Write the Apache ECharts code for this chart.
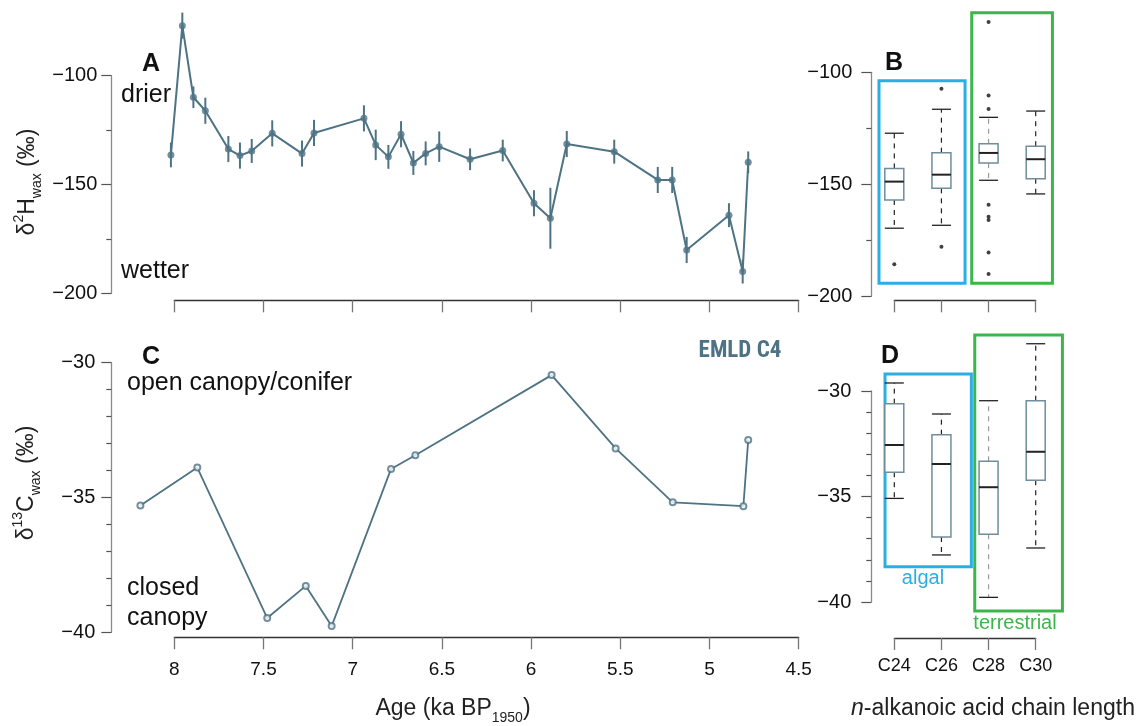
<!DOCTYPE html>
<html><head><meta charset="utf-8">
<script src="https://cdn.jsdelivr.net/npm/echarts@6/dist/echarts.min.js"></script>
<style>html,body{margin:0;padding:0;background:#fff}#c{width:1138px;height:726px}</style>
</head><body><div id="c"></div>
<script>
// ---------- data ----------
const ageH = [8.019,7.955,7.893,7.826,7.697,7.632,7.566,7.451,7.284,7.217,6.937,6.871,6.800,6.729,6.660,6.591,6.515,6.342,6.159,5.984,5.892,5.800,5.534,5.290,5.209,5.128,4.891,4.814,4.783];
const d2H = [-136.4,-77.0,-109.9,-116.1,-133.7,-136.7,-134.6,-126.5,-135.8,-126.3,-119.6,-131.8,-137.3,-126.9,-140.1,-135.7,-132.6,-138.4,-134.4,-158.6,-165.5,-131.4,-134.9,-147.9,-147.9,-180.1,-164.1,-190.0,-139.8];
const d2HErr = [5.7,6,5,6,6,6,5.5,6,6,6,6,7,5.5,6,5.5,5.5,7,5,5,6,14,6,5.5,6,6,6,5.5,5.5,5];
const ageC = [8.19,7.871,7.479,7.263,7.118,6.785,6.649,5.885,5.526,5.206,4.81,4.783];
const d13C = [-35.30,-33.89,-39.47,-38.28,-39.77,-33.94,-33.43,-30.46,-33.18,-35.18,-35.32,-32.87];
const ageTicks = [8,7.5,7,6.5,6,5.5,5,4.5];
const chains = ['C24','C26','C28','C30'];
// box stats: [low whisker, Q1, median, Q3, high whisker]
const boxH = [[-169.6,-157.0,-148.8,-142.9,-127.2],[-168.3,-151.8,-145.7,-135.9,-116.5],[-148.2,-140.5,-136.0,-131.9,-120.1],[-154.3,-147.5,-138.8,-133.0,-117.3]];
const outH = [[0,-185.7],[1,-107.3],[1,-177.9],[2,-77.5],[2,-110.4],[2,-116.4],[2,-159.1],[2,-164.5],[2,-165.9],[2,-180.4],[2,-190.0]];
const boxC = [[-35.09,-33.85,-32.56,-30.60,-29.62],[-37.77,-36.92,-33.46,-32.07,-31.09],[-39.78,-36.79,-34.56,-33.33,-30.46],[-37.44,-34.23,-32.88,-30.46,-27.76]];

// ---------- annotation frames (axis coords) ----------
const framesB = [{x0:-0.325,x1:1.501,y0:-103.75,y1:-194.2,c:'#2aaee4'},{x0:1.643,x1:3.355,y0:-73.4,y1:-194.2,c:'#3cb64b'}];
const framesD = [{x0:-0.197,x1:1.635,y0:-29.19,y1:-38.33,c:'#2aaee4'},{x0:1.707,x1:3.567,y0:-27.35,y1:-40.43,c:'#3cb64b'}];

const COL = '#4e7384';
const FONT = '"Liberation Sans", Arial, Helvetica, sans-serif';
const minus = v => (v < 0 ? '\u2212' + Math.abs(v) : String(v));

function yAx(gi, min, max, interval, split, offset, margin) {
  return { type:'value', gridIndex:gi, min, max, interval, offset, position:'left',
    axisLine:{show:true,onZero:false,lineStyle:{color:'#8a8a8a',width:1.3}},
    axisTick:{show:true,length:10,lineStyle:{color:'#555',width:1.2}},
    minorTick:{show:true,splitNumber:split,length:5,lineStyle:{color:'#555',width:1.2}},
    splitLine:{show:false}, minorSplitLine:{show:false},
    axisLabel:{show:true,margin,formatter:minus,color:'#111',fontSize:20,fontFamily:FONT}
  };
}
function xAx(gi, min, max, interval, offset, label, inverse) {
  return { type:'value', gridIndex:gi, min, max, interval, offset, inverse, position:'bottom',
    axisLine:{show:true,onZero:false,lineStyle:{color:'#333',width:1.3}},
    axisTick:{show:true,length:12,lineStyle:{color:'#777',width:1.3}},
    splitLine:{show:false},
    axisLabel: label ? Object.assign({color:'#111',fontSize:19,fontFamily:FONT}, label) : {show:false}
  };
}

function errRender(params, api) {
  const x = api.value(0), y = api.value(1), e = api.value(2);
  const p1 = api.coord([x, y + e]), p2 = api.coord([x, y - e]);
  return {type:'line', shape:{x1:p1[0],y1:p1[1],x2:p2[0],y2:p2[1]}, style:{stroke:COL,lineWidth:2}};
}
function segRender(width) {
  return function(params, api) {
    const a = api.coord([api.value(0), api.value(1)]), b = api.coord([api.value(2), api.value(3)]);
    return {type:'line', shape:{x1:a[0],y1:a[1],x2:b[0],y2:b[1]}, style:{stroke:COL,lineWidth:width,lineCap:'round'}};
  };
}
function segs(xs, ys) {
  const out = [];
  for (let i = 0; i < xs.length - 1; i++) out.push([xs[i], ys[i], xs[i+1], ys[i+1]]);
  return out;
}
function boxRender(params, api) {
  const i = api.value(0);
  const lo = api.value(1), q1 = api.value(2), md = api.value(3), q3 = api.value(4), hi = api.value(5);
  const hw = 9.5;
  const pLo = api.coord([i, lo]), pQ1 = api.coord([i, q1]), pMd = api.coord([i, md]), pQ3 = api.coord([i, q3]), pHi = api.coord([i, hi]);
  const x = pMd[0];
  const wc = i === 2 ? '#9a9a9a' : '#222';
  return {type:'group', children:[
    {type:'line', shape:{x1:x,y1:pQ3[1],x2:x,y2:pHi[1]}, style:{stroke:wc,lineWidth:1.2,lineDash:[5,5]}},
    {type:'line', shape:{x1:x,y1:pQ1[1],x2:x,y2:pLo[1]}, style:{stroke:wc,lineWidth:1.2,lineDash:[5,5]}},
    {type:'line', shape:{x1:x-hw,y1:pHi[1],x2:x+hw,y2:pHi[1]}, style:{stroke:'#222',lineWidth:1.3}},
    {type:'line', shape:{x1:x-hw,y1:pLo[1],x2:x+hw,y2:pLo[1]}, style:{stroke:'#222',lineWidth:1.3}},
    {type:'rect', shape:{x:x-hw,y:pQ3[1],width:2*hw,height:pQ1[1]-pQ3[1]}, style:{fill:'#fff',stroke:'#6f8d9c',lineWidth:1.5}},
    {type:'line', shape:{x1:x-hw,y1:pMd[1],x2:x+hw,y2:pMd[1]}, style:{stroke:'#222',lineWidth:2}}
  ]};
}
function frameRender(frames) {
  return function(params, api) {
    const f = frames[params.dataIndex];
    const a = api.coord([f.x0, f.y0]), b = api.coord([f.x1, f.y1]);
    return {type:'rect', shape:{x:a[0],y:a[1],width:b[0]-a[0],height:b[1]-a[1]}, style:{fill:'none',stroke:f.c,lineWidth:3}};
  };
}

const option = {
  backgroundColor:'#fff',
  animation:false,
  grid:[
    {left:174.3, top:75.7, width:624.4, height:217.6},
    {left:894.3, top:72.3, width:141.4, height:224},
    {left:174.3, top:362.7, width:624.4, height:269.6},
    {left:894.3, top:391, width:141.4, height:211}
  ],
  xAxis:[
    xAx(0, 4.5, 8, 0.5, 7, null, true),
    xAx(1, 0, 3, 1, 4, null, false),
    xAx(2, 4.5, 8, 0.5, 5, {margin:23}, true),
    xAx(3, 0, 3, 1, 36, {margin:19, fontSize:18, formatter: v => chains[v]}, false)
  ],
  yAxis:[
    yAx(0, -200, -100, 50, 2, 63, 14),
    yAx(1, -200, -100, 50, 2, 23, 19),
    yAx(2, -40, -30, 5, 5, 63, 16),
    yAx(3, -40, -30, 5, 5, 23, 20)
  ],
  series:[
    {type:'custom', xAxisIndex:0, yAxisIndex:0, renderItem:errRender, data: ageH.map((a,i)=>[a,d2H[i],d2HErr[i]]), z:2},
    {type:'custom', xAxisIndex:0, yAxisIndex:0, renderItem:segRender(2), data: segs(ageH, d2H), z:2},
    {type:'scatter', xAxisIndex:0, yAxisIndex:0, clip:false, data: ageH.map((a,i)=>[a,d2H[i]]),
      symbol:'circle', symbolSize:7, itemStyle:{color:COL}, z:3},
    {type:'custom', xAxisIndex:2, yAxisIndex:2, renderItem:segRender(1.8), data: segs(ageC, d13C), z:2},
    {type:'scatter', xAxisIndex:2, yAxisIndex:2, clip:false, data: ageC.map((a,i)=>[a,d13C[i]]),
      symbol:'emptyCircle', symbolSize:6, itemStyle:{color:COL,borderColor:COL,borderWidth:1.6}, z:3},
    {type:'custom', xAxisIndex:1, yAxisIndex:1, renderItem:frameRender(framesB), data: framesB.map((f,i)=>[i]), z:1},
    {type:'custom', xAxisIndex:3, yAxisIndex:3, renderItem:frameRender(framesD), data: framesD.map((f,i)=>[i]), z:1},
    {type:'custom', xAxisIndex:1, yAxisIndex:1, renderItem:boxRender, data: boxH.map((b,i)=>[i].concat(b)), z:2},
    {type:'custom', xAxisIndex:3, yAxisIndex:3, renderItem:boxRender, data: boxC.map((b,i)=>[i].concat(b)), z:2},
    {type:'scatter', xAxisIndex:1, yAxisIndex:1, clip:false, data: outH, symbol:'circle', symbolSize:4, itemStyle:{color:'#111'}, z:3}
  ],
  graphic:[]
};

function txt(x, y, text, opt) {
  const o = opt || {};
  return {type:'text', x, y, rotation:o.rot||0, z:10, style:Object.assign({
    text, fill:o.fill||'#111', fontSize:o.size||25, fontFamily:o.family||FONT, fontWeight:o.weight||'normal', fontStyle:o.style||'normal',
    align:o.align||'left', textAlign:o.align||'left', verticalAlign:'middle', textVerticalAlign:'middle'
  }, o.rich ? {rich:o.rich} : {})};
}
const richT = {
  m:{fontSize:23, fontFamily:FONT, fill:'#222', lineHeight:32, verticalAlign:'middle'},
  sup:{fontSize:14, fontFamily:FONT, fill:'#222', lineHeight:32, verticalAlign:'top'},
  sub:{fontSize:14, fontFamily:FONT, fill:'#222', lineHeight:32, verticalAlign:'bottom'},
  i:{fontSize:23, fontFamily:FONT, fill:'#222', fontStyle:'italic', lineHeight:32, verticalAlign:'middle'}
};
option.graphic = [
  txt(151, 64, 'A', {weight:'bold', size:25, align:'center'}),
  txt(894, 63, 'B', {weight:'bold', size:25, align:'center'}),
  txt(151, 357, 'C', {weight:'bold', size:25, align:'center'}),
  txt(890, 356, 'D', {weight:'bold', size:25, align:'center'}),
  txt(121, 95, 'drier'),
  txt(121, 271, 'wetter'),
  txt(127, 383, 'open canopy/conifer'),
  txt(127, 588, 'closed'),
  txt(127, 618, 'canopy'),
  txt(740, 351, 'EMLD C4', {weight:'bold', size:23, family:'"Liberation Sans Narrow", "Roboto Condensed", Arial', fill:COL, align:'center'}),
  txt(923, 578, 'algal', {size:20, fill:'#2aaee4', align:'center'}),
  txt(1015, 623, 'terrestrial', {size:20, fill:'#3cb64b', align:'center'}),
  txt(28, 182, '{m|\u03b4}{sup|2}{m|H}{sub|wax}{m| (\u2030)}', {rot:Math.PI/2, align:'center', rich:richT}),
  txt(27, 483, '{m|\u03b4}{sup|13}{m|C}{sub|wax}{m| (\u2030)}', {rot:Math.PI/2, align:'center', rich:richT}),
  txt(453, 709, '{m|Age (ka BP}{sub|1950}{m|)}', {align:'center', rich:richT}),
  txt(993, 709, '{i|n}{m|-alkanoic acid chain length}', {align:'center', rich:richT})
];

const chart = echarts.init(document.getElementById('c'));
chart.setOption(option);
</script>
</body></html>
